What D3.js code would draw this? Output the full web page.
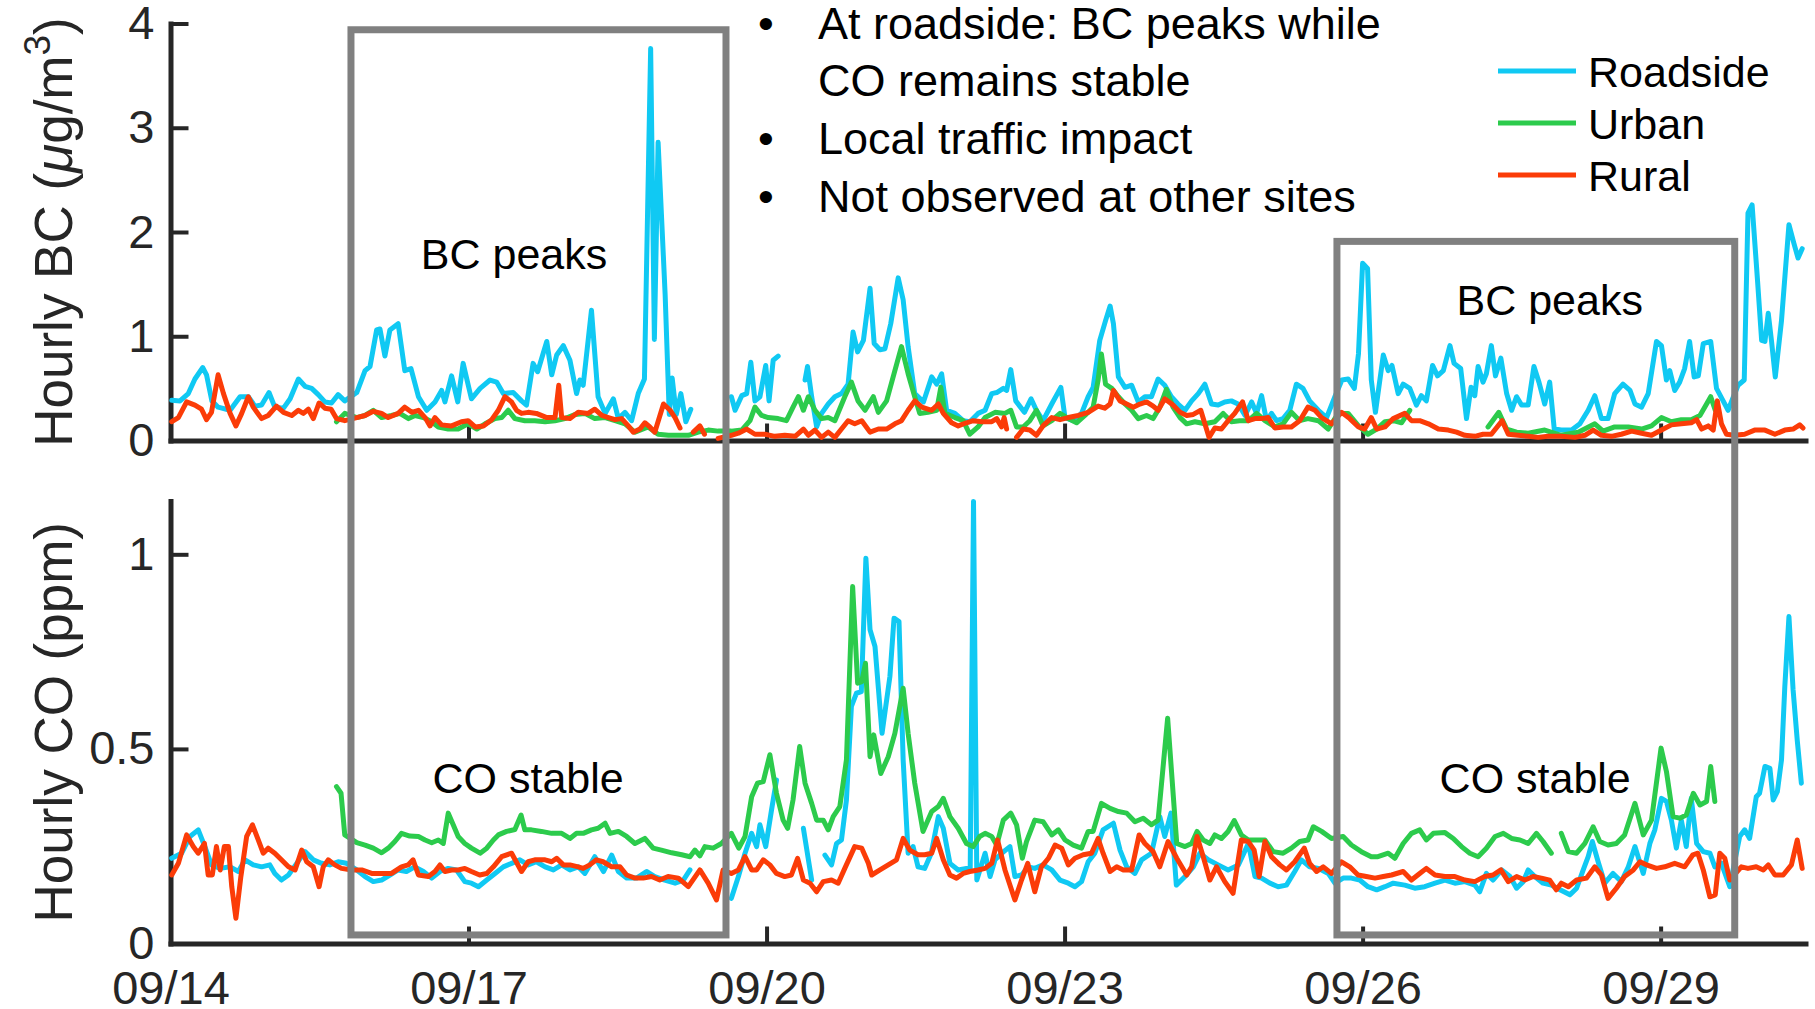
<!DOCTYPE html>
<html><head><meta charset="utf-8">
<script src="https://cdn.jsdelivr.net/npm/d3@7"></script>
<style>
body{margin:0;background:#fff;}
svg{display:block;font-family:"Liberation Sans",Arial,Helvetica,sans-serif;}
</style>
</head><body>
<svg id="chart" width="1815" height="1009"></svg>
<script>
// ---------------- data ----------------
const seriesNames = ["Roadside", "Urban", "Rural"];
const xTickDays = [0, 3, 6, 9, 12, 15];               // days after 09/14 00:00
const xTickLabels = ["09/14", "09/17", "09/20", "09/23", "09/26", "09/29"];
const bcTicks = [0, 1, 2, 3, 4];
const coTicks = [0, 0.5, 1];
const bulletLines = [
  {bullet: true,  text: "At roadside: BC peaks while"},
  {bullet: false, text: "CO remains stable"},
  {bullet: true,  text: "Local traffic impact"},
  {bullet: true,  text: "Not observed at other sites"}
];
// highlighted windows [start hour, end hour]
const highlightWindows = [[43.6, 134.2], [281.8, 377.9]];
const highlightTopBC = [3.94, 1.91];

// series: [hour since 09/14 00:00, value]; null = gap
const bcRoadside = [[0.3,0.385],[2.3,0.38],[4.3,0.45],[5.9,0.59],[7.8,0.70],[8.7,0.63],[10,0.38],[11.5,0.32],[14.4,0.29],[16.8,0.42],[18.8,0.42],[20.4,0.33],[22,0.34],[23.8,0.46],[25.2,0.32],[27.3,0.31],[28.9,0.40],[30.9,0.59],[32.5,0.52],[34.1,0.50],[35.7,0.44],[37.3,0.37],[38.9,0.36],[40.5,0.44],[42.1,0.38],[45,0.46],[47,0.67],[48.2,0.71],[49.8,1.06],[50.6,1.07],[51.8,0.81],[53,1.06],[55,1.12],[56.6,0.67],[58.1,0.69],[59.9,0.42],[61.9,0.29],[63.9,0.37],[65.5,0.48],[66.3,0.37],[67.9,0.62],[69.4,0.37],[70.7,0.74],[72.7,0.40],[74.8,0.50],[77.2,0.58],[78.8,0.56],[80.4,0.45],[82.8,0.46],[84.8,0.38],[86,0.34],[87.6,0.74],[88.7,0.66],[90.9,0.95],[92.1,0.63],[93.3,0.82],[94.9,0.91],[96.5,0.77],[98.1,0.45],[98.9,0.58],[99.7,0.53],[101.7,1.25],[103.3,0.42],[105,0.26],[107,0.40],[108.2,0.21],[109.8,0.27],[111.4,0.19],[113,0.45],[114.5,0.59],[116,3.76],[116.9,0.97],[117.8,2.86],[119.5,1.4],[120.5,0.25],[121.2,0.6],[122.2,0.25],[123.3,0.45],[124.5,0.18],[125.7,0.3],null,
[135.5,0.42],[136.4,0.29],[138,0.43],[139.2,0.45],[140.2,0.75],[141.2,0.38],[142.4,0.42],[143.8,0.72],[144.6,0.38],[145.6,0.77],[146.8,0.81],null,
[153.3,0.58],[153.9,0.71],[154.9,0.42],[156.1,0.13],[157.3,0.26],[158.9,0.35],[160.5,0.42],[162.1,0.45],[163.7,0.54],[164.9,1.04],[166,0.85],[167.4,0.96],[169,1.46],[170,0.93],[171.4,0.87],[172.6,0.88],[174,1.12],[175.8,1.56],[177,1.35],[178.2,0.90],[179.8,0.45],[181.9,0.37],[183.9,0.61],[185.1,0.54],[186.3,0.64],[187.5,0.29],[189.5,0.26],[191.5,0.19],[193.1,0.18],[195.1,0.26],[196.8,0.29],[198.4,0.45],[199.6,0.46],[201.2,0.50],[202,0.48],[203,0.68],[204.2,0.38],[206.3,0.27],[207.9,0.40],[209.2,0.29],[210.8,0.19],[212.9,0.35],[215.1,0.51],[216.1,0.22],[218.1,0.19],[220.1,0.26],[221.7,0.42],[222.9,0.51],[224.5,0.96],[225.9,1.15],[227,1.29],[227.8,1.12],[229,0.61],[230.6,0.51],[232.2,0.53],[233.8,0.37],[235.4,0.42],[237,0.42],[238.6,0.59],[240.2,0.53],[241.8,0.42],[243.4,0.35],[245.1,0.29],[246.7,0.38],[248.3,0.45],[249.9,0.54],[251.5,0.35],[253.1,0.34],[254.7,0.37],[256.3,0.38],[257.9,0.35],[259.6,0.24],[261.2,0.37],[262.4,0.26],[263.6,0.43],[264.8,0.19],[266,0.26],[267.2,0.19],[268.8,0.21],[270.4,0.29],[272,0.54],[273.6,0.50],[275.2,0.38],[277.3,0.29],[279.3,0.22],[281.3,0.42],[283,0.58],[284.5,0.59],[286,0.50],[287,0.83],[288,1.70],[289.2,1.65],[290.1,0.58],[291.1,0.27],[293,0.82],[294.2,0.67],[295.1,0.72],[296.6,0.45],[297.8,0.54],[299.4,0.50],[301,0.34],[302.2,0.43],[303.4,0.38],[304.9,0.72],[306.1,0.62],[307.5,0.67],[309.1,0.91],[310.1,0.74],[311.7,0.69],[313.1,0.21],[314.2,0.51],[315.1,0.43],[315.9,0.71],[317.1,0.56],[317.9,0.64],[319.1,0.91],[320.1,0.62],[321.4,0.79],[322.8,0.45],[324,0.29],[325.2,0.42],[326.4,0.34],[328,0.34],[329.4,0.71],[330.6,0.56],[332,0.35],[333.2,0.56],[334.3,0.11],[336,0.10],[338.5,0.10],[340.5,0.16],[342.5,0.29],[344.1,0.43],[345.7,0.21],[347.3,0.21],[348.9,0.45],[350.9,0.54],[352.6,0.48],[353.8,0.35],[355.4,0.32],[357,0.45],[359,0.95],[360.2,0.91],[361.4,0.58],[362.2,0.67],[363.4,0.48],[364.6,0.56],[365.8,0.69],[367,0.95],[368.1,0.61],[369.1,0.62],[370.3,0.93],[372.1,0.95],[373.5,0.50],[375.1,0.38],[376.3,0.29],[378.7,0.53],[380.2,0.58],[381.1,2.18],[382.1,2.26],[383.4,1.54],[384.4,0.96],[385.2,0.95],[386,1.22],[386.8,0.95],[387.7,0.61],[389.2,1.15],[391,2.07],[392.2,1.89],[393.2,1.75],[394.2,1.84]];

const bcUrban = [[40.1,0.18],[42.1,0.26],[45,0.22],[47,0.24],[49,0.29],[51,0.22],[53.4,0.24],[55.4,0.26],[57.5,0.21],[59.1,0.24],[61.1,0.22],[63.1,0.18],[64.7,0.13],[67.1,0.11],[69.5,0.11],[71.9,0.16],[74,0.11],[76,0.16],[78.4,0.21],[80,0.22],[81.6,0.29],[83.2,0.21],[85.6,0.19],[88,0.19],[90.5,0.18],[92.9,0.19],[95.3,0.21],[97.7,0.25],[100.1,0.26],[102.5,0.21],[105,0.22],[107.4,0.19],[109.8,0.16],[112.2,0.08],[115.4,0.13],[117.8,0.06],[120.3,0.05],[122.7,0.05],[125.1,0.05],[127.5,0.08],[129.9,0.10],[132.3,0.09],[135.5,0.09],[138,0.10],[140,0.19],[141.2,0.32],[142.8,0.24],[144.4,0.22],[146.8,0.21],[148.8,0.19],[150.4,0.32],[151.7,0.42],[152.9,0.29],[154.1,0.42],[155.7,0.29],[157.3,0.21],[158.9,0.22],[160.5,0.19],[162.9,0.42],[164.5,0.56],[166.1,0.38],[167.8,0.29],[169.8,0.42],[171,0.27],[173,0.38],[175,0.67],[176.6,0.90],[178.2,0.64],[179.8,0.42],[181,0.26],[183,0.27],[185.1,0.29],[186.1,0.51],[187.1,0.26],[189.5,0.22],[191.5,0.19],[193.1,0.06],[195.1,0.13],[196.8,0.22],[199.2,0.27],[201.6,0.26],[203,0.29],[204.4,0.13],[206,0.13],[207.6,0.19],[209.2,0.29],[210.8,0.14],[212.9,0.19],[214.9,0.26],[216.9,0.21],[218.9,0.17],[220.9,0.24],[222.9,0.32],[224.1,0.58],[224.9,0.83],[225.9,0.54],[227.4,0.50],[229,0.42],[230.6,0.35],[232.2,0.29],[233.8,0.21],[235.8,0.24],[237.4,0.21],[239,0.32],[240.6,0.49],[242.2,0.32],[243.9,0.22],[245.5,0.16],[247.5,0.18],[249.9,0.16],[252.3,0.18],[254.3,0.26],[256.3,0.18],[258.3,0.19],[260.4,0.19],[262.4,0.26],[264.4,0.19],[266.8,0.13],[268.8,0.16],[270.8,0.27],[272.8,0.19],[274.8,0.21],[277.3,0.19],[279.7,0.11],[282.1,0.26],[284.5,0.26],[287,0.14],[289.3,0.06],[291.4,0.11],[293.4,0.18],[295.4,0.19],[297.4,0.17],[299.4,0.29],null,
[318.3,0.13],[320.9,0.27],[322.8,0.11],[325.2,0.08],[328,0.07],[332,0.10],[336,0.05],[340.1,0.08],[344.1,0.16],[346.1,0.09],[348.9,0.13],[352.2,0.13],[355.4,0.11],[357.8,0.14],[360.2,0.22],[362.6,0.18],[365,0.20],[367.4,0.20],[369.5,0.24],[371.1,0.35],[372.1,0.42],[373.2,0.29]];

const bcRural = [[0.3,0.18],[1.9,0.22],[3.9,0.37],[5.9,0.34],[7.5,0.30],[8.7,0.20],[9.9,0.27],[11.5,0.63],[12.8,0.45],[14.4,0.26],[15.8,0.14],[17.2,0.26],[18.8,0.42],[20,0.32],[22,0.21],[23.6,0.24],[25.6,0.33],[27.3,0.27],[29.3,0.24],[30.9,0.29],[32.1,0.26],[33.3,0.30],[34.5,0.21],[35.9,0.36],[37.3,0.31],[38.8,0.30],[40.1,0.21],[42.1,0.19],[45,0.22],[47,0.24],[49,0.28],[51,0.26],[52.6,0.22],[55,0.26],[56.6,0.32],[58.3,0.27],[59.9,0.29],[61.5,0.22],[62.7,0.14],[63.9,0.22],[65.5,0.15],[67.9,0.14],[70.3,0.18],[71.9,0.19],[73.6,0.13],[75.6,0.14],[77.6,0.20],[79.2,0.29],[80.8,0.42],[82.4,0.37],[83.6,0.29],[84.8,0.26],[86.4,0.27],[88.4,0.26],[90.9,0.22],[92.9,0.22],[93.8,0.53],[94.5,0.22],[96.5,0.21],[98.5,0.27],[100.9,0.26],[102.5,0.30],[104.2,0.24],[105.8,0.22],[107.4,0.20],[109,0.21],[110.6,0.14],[111.8,0.08],[113.4,0.11],[114.6,0.17],[115.8,0.13],[117,0.08],[119.1,0.35],[120.7,0.29],[121.9,0.22],[123.1,0.12],null,
[126.3,0.08],[127.9,0.14],[129,0.06],null,
[132.3,0.02],[135.5,0.05],[137.2,0.07],[139.2,0.11],[141.2,0.06],[143.6,0.06],[146,0.04],[148.4,0.05],[150.9,0.04],[152.9,0.11],[154.1,0.05],[155.7,0.10],[157.3,0.03],[158.9,0.08],[160.5,0.03],[162.1,0.11],[163.7,0.19],[165.3,0.16],[167,0.19],[169,0.08],[171,0.11],[173,0.11],[175,0.16],[176.6,0.19],[178.2,0.29],[179.8,0.38],[181.5,0.32],[183.9,0.29],[185.5,0.35],[186.7,0.26],[188.7,0.17],[190.3,0.14],[192.3,0.17],[193.9,0.19],[196,0.18],[198.4,0.18],[199.6,0.21],[200.8,0.13],[201.4,0.22],[202,0.11],null,
[204.4,0.03],[206,0.11],[207.6,0.10],[209.2,0.05],[210.8,0.14],[212.9,0.22],[214.9,0.20],[216.9,0.22],[219.3,0.24],[221.7,0.27],[224.1,0.33],[225.7,0.31],[227,0.35],[227.8,0.48],[229.4,0.38],[231,0.35],[232.6,0.32],[234.2,0.35],[235.8,0.37],[237.4,0.33],[238.6,0.29],[240.2,0.40],[242.2,0.34],[243.9,0.27],[245.5,0.24],[247.1,0.25],[248.9,0.29],[250.9,0.03],[252.3,0.12],[253.9,0.11],[255.5,0.19],[257.1,0.26],[259,0.37],[260.4,0.19],[262,0.21],[263.6,0.21],[265.2,0.22],[266.8,0.12],[268.8,0.13],[270.8,0.13],[272.8,0.19],[274.8,0.32],[276.5,0.29],[278.1,0.22],[280.5,0.16],[282.9,0.27],[284.9,0.21],[287,0.13],[288.5,0.11],[290.1,0.22],[291.4,0.11],[293.4,0.13],[295.4,0.21],[298.2,0.26],[299.8,0.19],[301.8,0.19],[303.9,0.16],[306.3,0.11],[308.7,0.10],[310.7,0.08],[312.7,0.05],[315.1,0.04],[317.1,0.06],[319.1,0.06],[321.7,0.19],[323.2,0.06],[325.6,0.05],[328,0.04],[330.4,0.03],[332.8,0.04],[336,0.04],[339.3,0.03],[341.7,0.05],[343.7,0.10],[345.7,0.05],[348.1,0.04],[350.5,0.06],[353,0.09],[355.4,0.07],[357.8,0.05],[360.2,0.10],[362.6,0.15],[365,0.16],[367.4,0.17],[368.7,0.20],[369.9,0.11],[371.5,0.14],[372.7,0.10],[373.7,0.38],[374.7,0.16],[375.9,0.06],[377.9,0.05],[380.3,0.06],[382.7,0.10],[385.2,0.10],[387.6,0.06],[390,0.10],[392,0.11],[393.6,0.15],[394.4,0.12]];

const coRoadside = [[0.3,0.219],[2.7,0.232],[4.7,0.275],[6.7,0.292],[8.3,0.249],[9.9,0.202],[12,0.193],[14.4,0.197],[16.4,0.185],[18,0.215],[20,0.202],[22,0.197],[24,0.202],[25.2,0.180],[26.8,0.163],[28.5,0.176],[30.5,0.206],[32.5,0.236],[34.5,0.215],[36.5,0.206],[38.5,0.202],[40.5,0.210],[42.5,0.206],[45,0.189],[47,0.172],[49,0.159],[51,0.163],[53,0.176],[55,0.189],[57,0.185],[59,0.197],[61.1,0.185],[63.1,0.168],[65.1,0.185],[67.1,0.193],[69.1,0.189],[71.1,0.159],[72.7,0.155],[74.4,0.146],[76.4,0.163],[78.4,0.180],[80.4,0.197],[82.4,0.206],[84.4,0.215],[86.4,0.202],[88.4,0.210],[90.5,0.197],[92.5,0.189],[94.5,0.202],[96.5,0.189],[98.5,0.197],[100.1,0.180],[102.5,0.223],[104.6,0.185],[106.6,0.227],[108.2,0.185],[110.2,0.168],[112.6,0.168],[115,0.185],[117,0.172],[119.4,0.163],[121.9,0.155],[123.9,0.163],[125.5,0.189],null,
[135.5,0.116],[137.2,0.172],[138.8,0.232],[140.4,0.283],[141.6,0.249],[142.4,0.305],[143.8,0.249],[145.2,0.343],[146.4,0.420],null,
[152.9,0.296],[154.9,0.163],null,
[158.1,0.227],[159.7,0.202],[160.9,0.257],[162.1,0.266],[163.3,0.369],[164.5,0.609],[165.7,0.643],[166.9,0.647],[168,0.990],[169,0.806],[170.2,0.763],[171.9,0.540],[173.8,0.686],[174.8,0.836],[176,0.827],[177,0.472],[178.2,0.232],[179.4,0.249],[180.6,0.197],[182.2,0.193],[183.8,0.232],[185.5,0.326],[186.7,0.296],[188.3,0.206],[190.3,0.189],[192.3,0.193],[193.2,0.19],[194,1.136],[194.8,0.163],[196.8,0.232],[198,0.172],[199.2,0.215],[200.8,0.232],[202.8,0.249],[204,0.172],[205.6,0.176],[207.2,0.197],[208.8,0.193],[210.8,0.202],[212.9,0.189],[214.9,0.163],[216.9,0.155],[218.5,0.146],[220.1,0.159],[221.7,0.210],[223.3,0.232],[225.3,0.292],[227.8,0.309],[229.4,0.240],[231,0.197],[233,0.180],[234.6,0.215],[237,0.232],[239,0.326],[240.2,0.275],[241.7,0.335],[243,0.150],[245.1,0.172],[247.1,0.197],[248.7,0.232],[250.7,0.215],[253.1,0.202],[255.5,0.189],[258,0.202],[260.4,0.257],[262,0.172],[263.6,0.168],[265.6,0.155],[267.6,0.146],[269.6,0.150],[271.6,0.185],[273.2,0.215],[275.2,0.197],[277.3,0.193],[279.7,0.180],[281.3,0.155],[283.3,0.168],[285.3,0.168],[287.3,0.163],[289.3,0.146],[291.4,0.138],[293.4,0.146],[295.4,0.155],[298.2,0.150],[300.6,0.142],[303,0.146],[305.5,0.155],[307.9,0.163],[310.3,0.155],[312.7,0.159],[315.1,0.150],[316.3,0.133],[317.9,0.180],[319.5,0.163],[321.6,0.189],[323.6,0.172],[325.2,0.142],[326.8,0.159],[328,0.189],[329.6,0.172],[331.6,0.155],[333.6,0.150],[335.7,0.138],[338.1,0.125],[339.7,0.142],[341.3,0.189],[342.5,0.223],[343.5,0.262],[344.9,0.210],[346.5,0.155],[348.5,0.180],[350.5,0.159],[352.2,0.197],[353.8,0.249],[355.8,0.180],[357.4,0.257],[358.6,0.292],[360.2,0.373],[361.4,0.365],[362.6,0.317],[363.8,0.245],[365,0.317],[366.2,0.249],[367.4,0.373],[368.7,0.257],[370.3,0.236],[371.9,0.232],[373.1,0.197],[374.7,0.206],[376.7,0.146],[379.1,0.275],[380.3,0.292],[381.5,0.270],[383.1,0.377],[383.9,0.386],[385.2,0.455],[386.4,0.450],[387.2,0.369],[388.2,0.390],[389.2,0.472],[390,0.660],[391,0.840],[392,0.652],[393,0.523],[394,0.412]];

const coUrban = [[40.1,0.403],[41.2,0.386],[42.1,0.279],[45,0.259],[47,0.253],[49,0.245],[51,0.233],[52.6,0.245],[54.2,0.262],[55.8,0.283],[57.8,0.276],[59.9,0.275],[61.5,0.266],[63.1,0.259],[64.7,0.266],[65.9,0.257],[67.1,0.335],[68.3,0.305],[69.5,0.275],[71.1,0.257],[72.7,0.245],[74.8,0.232],[76.4,0.245],[78,0.266],[79.2,0.279],[81.2,0.288],[83.2,0.293],[84.7,0.330],[85.6,0.292],[87.2,0.292],[89.6,0.288],[92.1,0.283],[94.5,0.283],[96.5,0.270],[98.1,0.283],[99.7,0.283],[101.7,0.292],[103.3,0.296],[105,0.309],[106.2,0.283],[108.2,0.288],[110.2,0.275],[112.2,0.257],[114.6,0.270],[116.6,0.245],[118.6,0.240],[121.1,0.233],[123.5,0.228],[125.5,0.223],[126.7,0.240],[127.9,0.225],[129.1,0.249],[131.1,0.245],[133.1,0.257],[135.5,0.283],[137.3,0.245],[138.8,0.275],[140.4,0.377],[141.8,0.412],[143.2,0.416],[144.8,0.485],[146.4,0.386],[148,0.317],[149.1,0.296],[150.4,0.369],[152,0.506],[153.3,0.412],[154.9,0.360],[156.1,0.317],[157.7,0.317],[158.9,0.292],[160.1,0.326],[161.7,0.352],[163.3,0.472],[164.8,0.917],[166,0.669],[167,0.673],[167.9,0.720],[169,0.480],[169.9,0.536],[171.6,0.437],[173.4,0.480],[175,0.540],[177,0.656],[178.2,0.540],[179.8,0.412],[181.8,0.288],[183.9,0.339],[185.5,0.352],[186.7,0.373],[188.3,0.326],[190.3,0.296],[192.3,0.257],[193.9,0.249],[195.5,0.275],[196.8,0.283],[198.4,0.275],[199.6,0.253],[201.2,0.317],[203,0.335],[204.4,0.305],[205.8,0.219],[206.8,0.262],[208.8,0.317],[210.8,0.313],[212.9,0.279],[214.5,0.292],[216.1,0.266],[218.1,0.253],[220.1,0.245],[221.7,0.288],[222.9,0.288],[224.9,0.360],[227,0.347],[229,0.339],[231,0.335],[233,0.313],[235,0.322],[237,0.305],[238.6,0.317],[240.9,0.579],[243.1,0.257],[245.1,0.249],[246.7,0.257],[248,0.288],[249.5,0.266],[251.1,0.257],[252.3,0.279],[253.9,0.270],[255.5,0.288],[257,0.316],[258.7,0.279],[260.4,0.266],[262.4,0.266],[264.4,0.266],[266.4,0.236],[268.8,0.232],[270.8,0.245],[272.8,0.262],[274.8,0.266],[276.1,0.300],[278.1,0.288],[280.5,0.270],[283.3,0.275],[285.3,0.253],[287.7,0.236],[290.1,0.223],[291.7,0.223],[294.2,0.232],[295.8,0.219],[297.8,0.257],[299.8,0.283],[301.8,0.292],[303.4,0.266],[305.1,0.283],[307.9,0.285],[309.9,0.270],[311.9,0.249],[313.9,0.232],[315.9,0.223],[317.9,0.245],[320,0.275],[322,0.283],[324,0.270],[326,0.266],[328,0.257],[330,0.283],[331.6,0.262],[333.6,0.232],null,
[336,0.283],[337.7,0.236],[339.7,0.232],[341.7,0.257],[343.7,0.300],[345.3,0.262],[347.3,0.253],[349.3,0.257],[351.3,0.279],[353.8,0.360],[355.8,0.279],[357.8,0.317],[360.1,0.502],[361.4,0.442],[363,0.326],[364.6,0.322],[366.2,0.330],[367.9,0.386],[369.5,0.356],[371.1,0.365],[372.1,0.455],[373.1,0.365]];

const coRural = [[0.3,0.176],[1.9,0.206],[3.9,0.279],[5.5,0.249],[6.7,0.232],[8.2,0.257],[9.1,0.176],[10.1,0.176],[11.1,0.249],[12,0.189],[13,0.249],[14,0.249],[14.8,0.146],[15.8,0.065],[17,0.172],[18.4,0.275],[19.8,0.305],[21.2,0.266],[22.4,0.232],[23.6,0.245],[25.2,0.232],[26.8,0.215],[28.5,0.197],[30.1,0.189],[31.7,0.240],[32.9,0.210],[34.5,0.197],[35.9,0.146],[36.9,0.197],[38.1,0.215],[39.7,0.202],[41.3,0.193],[43.8,0.189],[46.2,0.189],[48.6,0.180],[51,0.180],[53.4,0.180],[55.8,0.197],[57.4,0.202],[58.6,0.215],[59.9,0.176],[62.3,0.172],[63.9,0.185],[65.1,0.202],[66.3,0.185],[67.9,0.189],[69.5,0.189],[71.1,0.193],[72.7,0.185],[74.7,0.176],[76.4,0.180],[78,0.197],[80,0.223],[82.4,0.232],[84.8,0.185],[86.4,0.210],[88,0.215],[90.5,0.215],[92.1,0.210],[93.3,0.219],[94.9,0.202],[96.5,0.202],[98.5,0.197],[99.7,0.193],[101.3,0.202],[102.9,0.215],[104.5,0.210],[106.6,0.197],[108.6,0.197],[110.2,0.176],[112.2,0.168],[114.2,0.168],[116.2,0.172],[118.2,0.163],[120.2,0.172],[122.7,0.168],[125.1,0.146],[127.9,0.189],[129.9,0.155],[131.9,0.112],[133.5,0.189],[135.5,0.180],[137.2,0.189],[138.8,0.223],[140.4,0.189],[141.6,0.189],[143.2,0.215],[144.8,0.202],[146.4,0.180],[148.4,0.172],[150,0.176],[151.5,0.219],[152.9,0.163],[154.5,0.155],[156.1,0.133],[157.7,0.159],[159.7,0.163],[161.3,0.155],[162.9,0.193],[165.3,0.249],[167,0.245],[168.6,0.206],[169.4,0.176],[171.4,0.189],[173.4,0.202],[175.4,0.215],[177,0.270],[178.6,0.240],[180.6,0.228],[182.2,0.228],[183.9,0.232],[185.1,0.270],[186.7,0.215],[188.3,0.176],[189.9,0.168],[191.5,0.180],[193.1,0.185],[195.1,0.189],[196.8,0.193],[198.4,0.206],[199.8,0.266],[201.6,0.189],[204,0.112],[205.6,0.163],[207.1,0.206],[208.8,0.133],[210.4,0.197],[212.1,0.219],[213.7,0.253],[215.3,0.245],[216.9,0.202],[218.5,0.219],[220.5,0.228],[222.5,0.232],[224.1,0.270],[225.3,0.232],[227,0.185],[228.6,0.197],[230.2,0.189],[232.2,0.189],[234,0.279],[235.4,0.257],[237.4,0.236],[239,0.197],[241,0.262],[243.1,0.219],[245.5,0.176],[246.7,0.197],[248,0.275],[249.5,0.223],[251.1,0.163],[252.7,0.197],[254.7,0.159],[256.7,0.129],[258.7,0.266],[260.4,0.262],[261.8,0.240],[263,0.172],[264.4,0.262],[266,0.223],[268,0.202],[269.6,0.189],[271.6,0.210],[273.9,0.245],[275.2,0.206],[276.9,0.185],[278.5,0.197],[280.5,0.180],[282.9,0.210],[284.9,0.197],[286.9,0.176],[288.9,0.172],[291,0.168],[293,0.172],[295,0.176],[297.8,0.185],[299.8,0.163],[301.8,0.180],[303.4,0.193],[305.5,0.176],[307.9,0.172],[310.3,0.172],[312.7,0.163],[315.1,0.159],[317.5,0.172],[319.5,0.176],[321.4,0.189],[323.2,0.159],[325.2,0.172],[327.2,0.163],[329.2,0.172],[331.2,0.168],[333.2,0.163],[334.8,0.138],[336,0.155],[337.7,0.146],[339.7,0.163],[342.1,0.168],[344.1,0.197],[345.7,0.176],[347.3,0.116],[349.3,0.142],[351.3,0.172],[353.4,0.189],[355,0.210],[356.6,0.202],[359,0.193],[361,0.197],[363.4,0.206],[365.8,0.197],[367.8,0.228],[369,0.232],[370.3,0.189],[371.9,0.120],[373.2,0.125],[374.3,0.232],[375.5,0.219],[376.7,0.163],[379.5,0.197],[381.1,0.193],[383.1,0.197],[384.8,0.189],[386,0.202],[387.6,0.176],[389.6,0.176],[391.6,0.202],[393,0.266],[394.2,0.193]];

// ---------------- styles ----------------
const colors = {Roadside: "#10c9f3", Urban: "#2ccb4c", Rural: "#fb3c08"};
const axisColor = "#262626";
const boxColor = "#808080";

// ---------------- layout ----------------
const svg = d3.select("#chart");
const x = d3.scaleLinear().domain([0, 395]).range([170.5, 1805.5]);
const yBC = d3.scaleLinear().domain([0, 4]).range([440.5, 23.5]);
const yCO = d3.scaleLinear().domain([0, 1.137]).range([943.5, 501]);

function drawAxes(yScale, ticks, showXLabels, yFmt) {
  const gy = svg.append("g").attr("transform", `translate(${x.range()[0]},0)`)
    .call(d3.axisLeft(yScale).tickValues(ticks).tickSizeInner(-18).tickSizeOuter(0).tickPadding(16).tickFormat(yFmt));
  const gx = svg.append("g").attr("transform", `translate(0,${yScale.range()[0]})`)
    .call(d3.axisBottom(x).tickValues(xTickDays.map(d => d * 24)).tickSizeInner(-17).tickSizeOuter(0).tickPadding(27)
      .tickFormat((d, i) => showXLabels ? xTickLabels[i] : ""));
  [gx, gy].forEach(g => {
    g.select(".domain").attr("stroke", axisColor).attr("stroke-width", 5).attr("stroke-linecap", "square");
    g.selectAll(".tick line").attr("stroke", axisColor).attr("stroke-width", 4);
    g.selectAll(".tick text").attr("fill", axisColor).attr("font-size", 47)
      .attr("font-family", "'Liberation Sans', Arial, sans-serif");
  });
}
drawAxes(yBC, bcTicks, false, d3.format("d"));
drawAxes(yCO, coTicks, true, d => d === 0.5 ? "0.5" : d3.format("d")(d));

// y titles
const t1 = svg.append("text").attr("transform", `translate(72,${(yBC.range()[0] + yBC.range()[1]) / 2}) rotate(-90)`)
  .attr("text-anchor", "middle").attr("font-size", 53).attr("fill", axisColor);
t1.append("tspan").text("Hourly BC (");
t1.append("tspan").attr("font-style", "italic").text("\u03BC");
t1.append("tspan").text("g/m");
t1.append("tspan").attr("font-size", 37).attr("dy", -22).text("3");
t1.append("tspan").attr("dy", 22).text(")");
svg.append("text").attr("transform", `translate(72,${(yCO.range()[0] + yCO.range()[1]) / 2}) rotate(-90)`)
  .attr("text-anchor", "middle").attr("font-size", 53).attr("fill", axisColor).text("Hourly CO (ppm)");

// lines
const line = (yScale) => d3.line().defined(d => d !== null).x(d => x(d[0])).y(d => yScale(d[1]));
const panels = [
  {y: yBC, data: {Roadside: bcRoadside, Urban: bcUrban, Rural: bcRural}},
  {y: yCO, data: {Roadside: coRoadside, Urban: coUrban, Rural: coRural}}
];
panels.forEach(p => {
  seriesNames.forEach(name => {
    svg.append("path").datum(p.data[name]).attr("d", line(p.y))
      .attr("fill", "none").attr("stroke", colors[name]).attr("stroke-width", 5)
      .attr("stroke-linejoin", "round").attr("stroke-linecap", "round");
  });
});

// highlight boxes
highlightWindows.forEach((w, i) => {
  const x0 = x(w[0]), x1 = x(w[1]);
  const y0 = yBC(highlightTopBC[i]), y1 = yCO(0.022);
  svg.append("rect").attr("x", x0).attr("y", y0).attr("width", x1 - x0).attr("height", y1 - y0)
    .attr("fill", "none").attr("stroke", boxColor).attr("stroke-width", 7);
});

// annotations
const notes = [
  {text: "BC peaks", h: 83, y: yBC(1.645)},
  {text: "BC peaks", h: 333.2, y: yBC(1.204)},
  {text: "CO stable", h: 86.4, y: yCO(0.387)},
  {text: "CO stable", h: 329.7, y: yCO(0.387)}
];
notes.forEach(n => {
  svg.append("text").attr("x", x(n.h)).attr("y", n.y).attr("text-anchor", "middle")
    .attr("font-size", 43).attr("fill", "#000").text(n.text);
});

// bullet text
bulletLines.forEach((l, i) => {
  const by = 38.5 + i * 57.8;
  if (l.bullet) svg.append("text").attr("x", 766).attr("y", by).attr("text-anchor", "middle")
    .attr("font-size", 45).attr("fill", "#000").text("\u2022");
  svg.append("text").attr("x", 818).attr("y", by).attr("font-size", 45).attr("fill", "#000").text(l.text);
});

// legend
seriesNames.forEach((name, i) => {
  const ly = 71 + i * 52;
  svg.append("line").attr("x1", 1498).attr("x2", 1576).attr("y1", ly).attr("y2", ly)
    .attr("stroke", colors[name]).attr("stroke-width", 5);
  svg.append("text").attr("x", 1588).attr("y", ly + 15.5).attr("font-size", 43).attr("fill", "#000").text(name);
});
</script>
</body></html>
